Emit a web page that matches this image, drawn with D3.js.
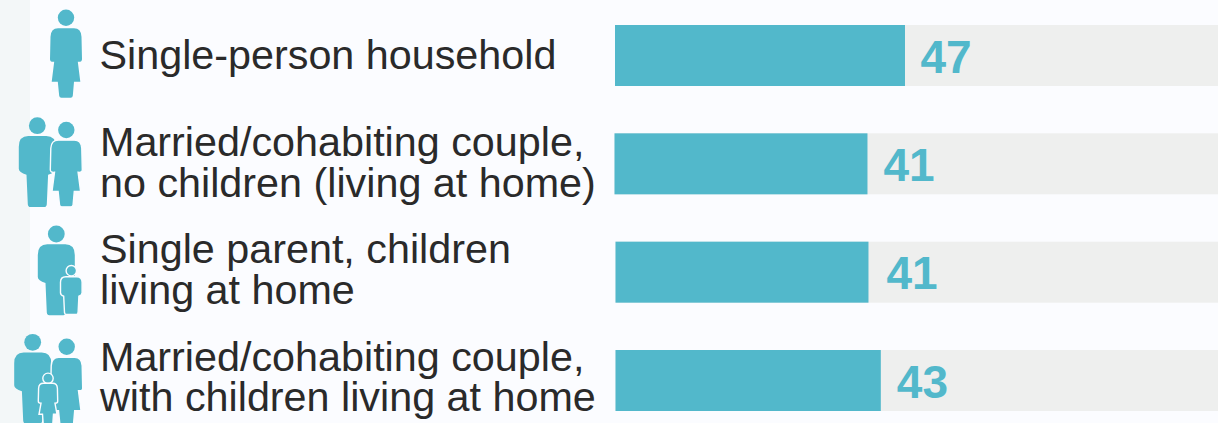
<!DOCTYPE html>
<html>
<head>
<meta charset="utf-8">
<script src="https://cdn.jsdelivr.net/npm/d3@7/dist/d3.min.js"></script>
<style>
  html, body { margin: 0; padding: 0; background: #fbfcff; overflow: hidden; }
  svg { display: block; }
  text { font-family: "Liberation Sans", Arial, sans-serif; }
</style>
</head>
<body>
<svg id="chart" width="1218" height="423"></svg>
<script>
// Household types, share per type (0-100 scale)
const categories = [
  "Single-person household",
  "Married/cohabiting couple, no children",
  "Single parent, children living at home",
  "Married/cohabiting couple, with children"
];
const labelLines = [
  ["Single-person household"],
  ["Married/cohabiting couple,", "no children (living at home)"],
  ["Single parent, children", "living at home"],
  ["Married/cohabiting couple,", "with children living at home"]
];
const values = [47, 41, 41, 43];
const valueMax = 100;

// Layout and palette
const width = 1218, height = 423;
const teal = "#52b8cb", track = "#eeefee", ink = "#2a2a2a", paper = "#fbfcff", strip = "#f3f7f8";
const barLeft = [615, 614.5, 615.5, 615.5];
const valueGap = [15.5, 16, 18, 16];
const labelLeft = [99.5, 100, 100, 100];
const labelFirstBaseline = [44, 23, 21.5, 20.5];
const labelLeading = 40.5;

const svg = d3.select("#chart");
svg.append("rect").attr("width", 30).attr("height", height).attr("fill", strip);

const x = d3.scaleLinear().domain([0, valueMax]).range([0, 617]);
const y = d3.scaleBand().domain(categories).range([25, 411]).paddingInner(0.437);

const rows = svg.selectAll("g.row").data(categories).join("g").attr("class", "row")
  .attr("transform", c => `translate(0,${y(c)})`);

rows.append("rect").attr("x", (c, i) => barLeft[i]).attr("width", x(valueMax))
  .attr("height", y.bandwidth()).attr("fill", track);
rows.append("rect").attr("x", (c, i) => barLeft[i]).attr("width", (c, i) => x(values[i]))
  .attr("height", y.bandwidth()).attr("fill", teal);
rows.append("text").attr("x", (c, i) => barLeft[i] + x(values[i]) + valueGap[i]).attr("y", 47.5)
  .attr("font-size", 46).attr("font-weight", 700).attr("fill", teal)
  .text((c, i) => values[i]);

// Category labels, one or two lines
rows.each(function (c, i) {
  d3.select(this).selectAll("text.label").data(labelLines[i]).join("text").attr("class", "label")
    .attr("x", labelLeft[i]).attr("y", (l, j) => labelFirstBaseline[i] + j * labelLeading)
    .attr("font-size", 41.3).attr("fill", ink).text(l => l);
});

// Pictogram figures, drawn around the head centre
const figures = svg.append("g");
function place(path, cx, cy, sy, outlined) {
  figures.append("path").attr("d", path.toString()).attr("fill", teal)
    .attr("transform", `translate(${cx},${cy}) scale(1,${sy})`)
    .attr("stroke", outlined ? paper : "none").attr("stroke-width", outlined ? 1.4 : 0);
}
function head(cx, cy, r, outlined) {
  figures.append("circle").attr("cx", cx).attr("cy", cy).attr("r", r).attr("fill", teal)
    .attr("stroke", outlined ? paper : "none").attr("stroke-width", outlined ? 1.4 : 0);
}
function woman(cx, cy, sy, outlined) {
  head(cx, cy, 8.2, false);
  const p = d3.path();
  p.moveTo(-8, 10.6); p.lineTo(8, 10.6);
  p.quadraticCurveTo(15, 10.6, 15.5, 19);
  p.lineTo(16, 41.5); p.quadraticCurveTo(16, 44.5, 11.8, 44);
  p.lineTo(14.3, 64); p.lineTo(8, 64); p.lineTo(6.8, 78);
  p.quadraticCurveTo(6.6, 80, 4.6, 80); p.lineTo(-4.6, 80);
  p.quadraticCurveTo(-6.6, 80, -6.8, 78); p.lineTo(-8.2, 64);
  p.lineTo(-14.3, 64); p.lineTo(-11.8, 44);
  p.quadraticCurveTo(-16, 44.5, -16, 41.5); p.lineTo(-15.5, 19);
  p.quadraticCurveTo(-15, 10.6, -8, 10.6); p.closePath();
  place(p, cx, cy, sy, outlined);
}
function man(cx, cy) {
  head(cx, cy, 8.4, false);
  const p = d3.path();
  p.moveTo(-9, 10.3); p.lineTo(9, 10.3);
  p.quadraticCurveTo(18.5, 10.3, 18.5, 21);
  p.lineTo(18.5, 43); p.quadraticCurveTo(18.5, 46.5, 10.8, 49);
  p.lineTo(9.5, 78.5); p.quadraticCurveTo(9.2, 81.3, 7, 81.3);
  p.lineTo(-7, 81.3); p.quadraticCurveTo(-9.2, 81.3, -9.5, 78.5);
  p.lineTo(-10.8, 49); p.quadraticCurveTo(-18.5, 46.5, -18.5, 43);
  p.lineTo(-18.5, 21); p.quadraticCurveTo(-18.5, 10.3, -9, 10.3);
  p.closePath();
  place(p, cx, cy, 1, false);
}
function boy(cx, cy) {
  head(cx, cy, 5.2, true);
  const p = d3.path();
  p.moveTo(-5.5, 6); p.lineTo(5.5, 6);
  p.quadraticCurveTo(10.8, 6, 10.8, 11.5);
  p.lineTo(10.8, 22); p.quadraticCurveTo(10.8, 24.5, 7.6, 25.5);
  p.lineTo(6.8, 42); p.quadraticCurveTo(6.6, 43.8, 5, 43.8);
  p.lineTo(-5, 43.8); p.quadraticCurveTo(-6.6, 43.8, -6.8, 42);
  p.lineTo(-7.6, 25.5); p.quadraticCurveTo(-10.8, 24.5, -10.8, 22);
  p.lineTo(-10.8, 11.5); p.quadraticCurveTo(-10.8, 6, -5.5, 6);
  p.closePath();
  place(p, cx, cy, 1, true);
}
function girl(cx, cy) {
  head(cx, cy, 5.2, true);
  const p = d3.path();
  p.moveTo(-4.5, 5); p.lineTo(4.5, 5);
  p.quadraticCurveTo(9.2, 5, 9.4, 10);
  p.lineTo(9.7, 23); p.quadraticCurveTo(9.7, 25, 7, 25);
  p.lineTo(9, 36); p.lineTo(5.5, 36); p.lineTo(4.5, 50);
  p.lineTo(-4.5, 50); p.lineTo(-5.5, 36); p.lineTo(-9, 36);
  p.lineTo(-7, 25); p.quadraticCurveTo(-9.7, 25, -9.7, 23);
  p.lineTo(-9.4, 10); p.quadraticCurveTo(-9.2, 5, -4.5, 5);
  p.closePath();
  place(p, cx, cy, 1, true);
}

woman(66, 17.7, 1, false);

man(37.3, 125.7);
woman(66.3, 130, 0.96, true);

man(56.3, 234);
boy(71.3, 270.7);

man(32.7, 342.3);
woman(66.7, 346.7, 1, true);
girl(48, 378.3);
</script>
</body>
</html>
